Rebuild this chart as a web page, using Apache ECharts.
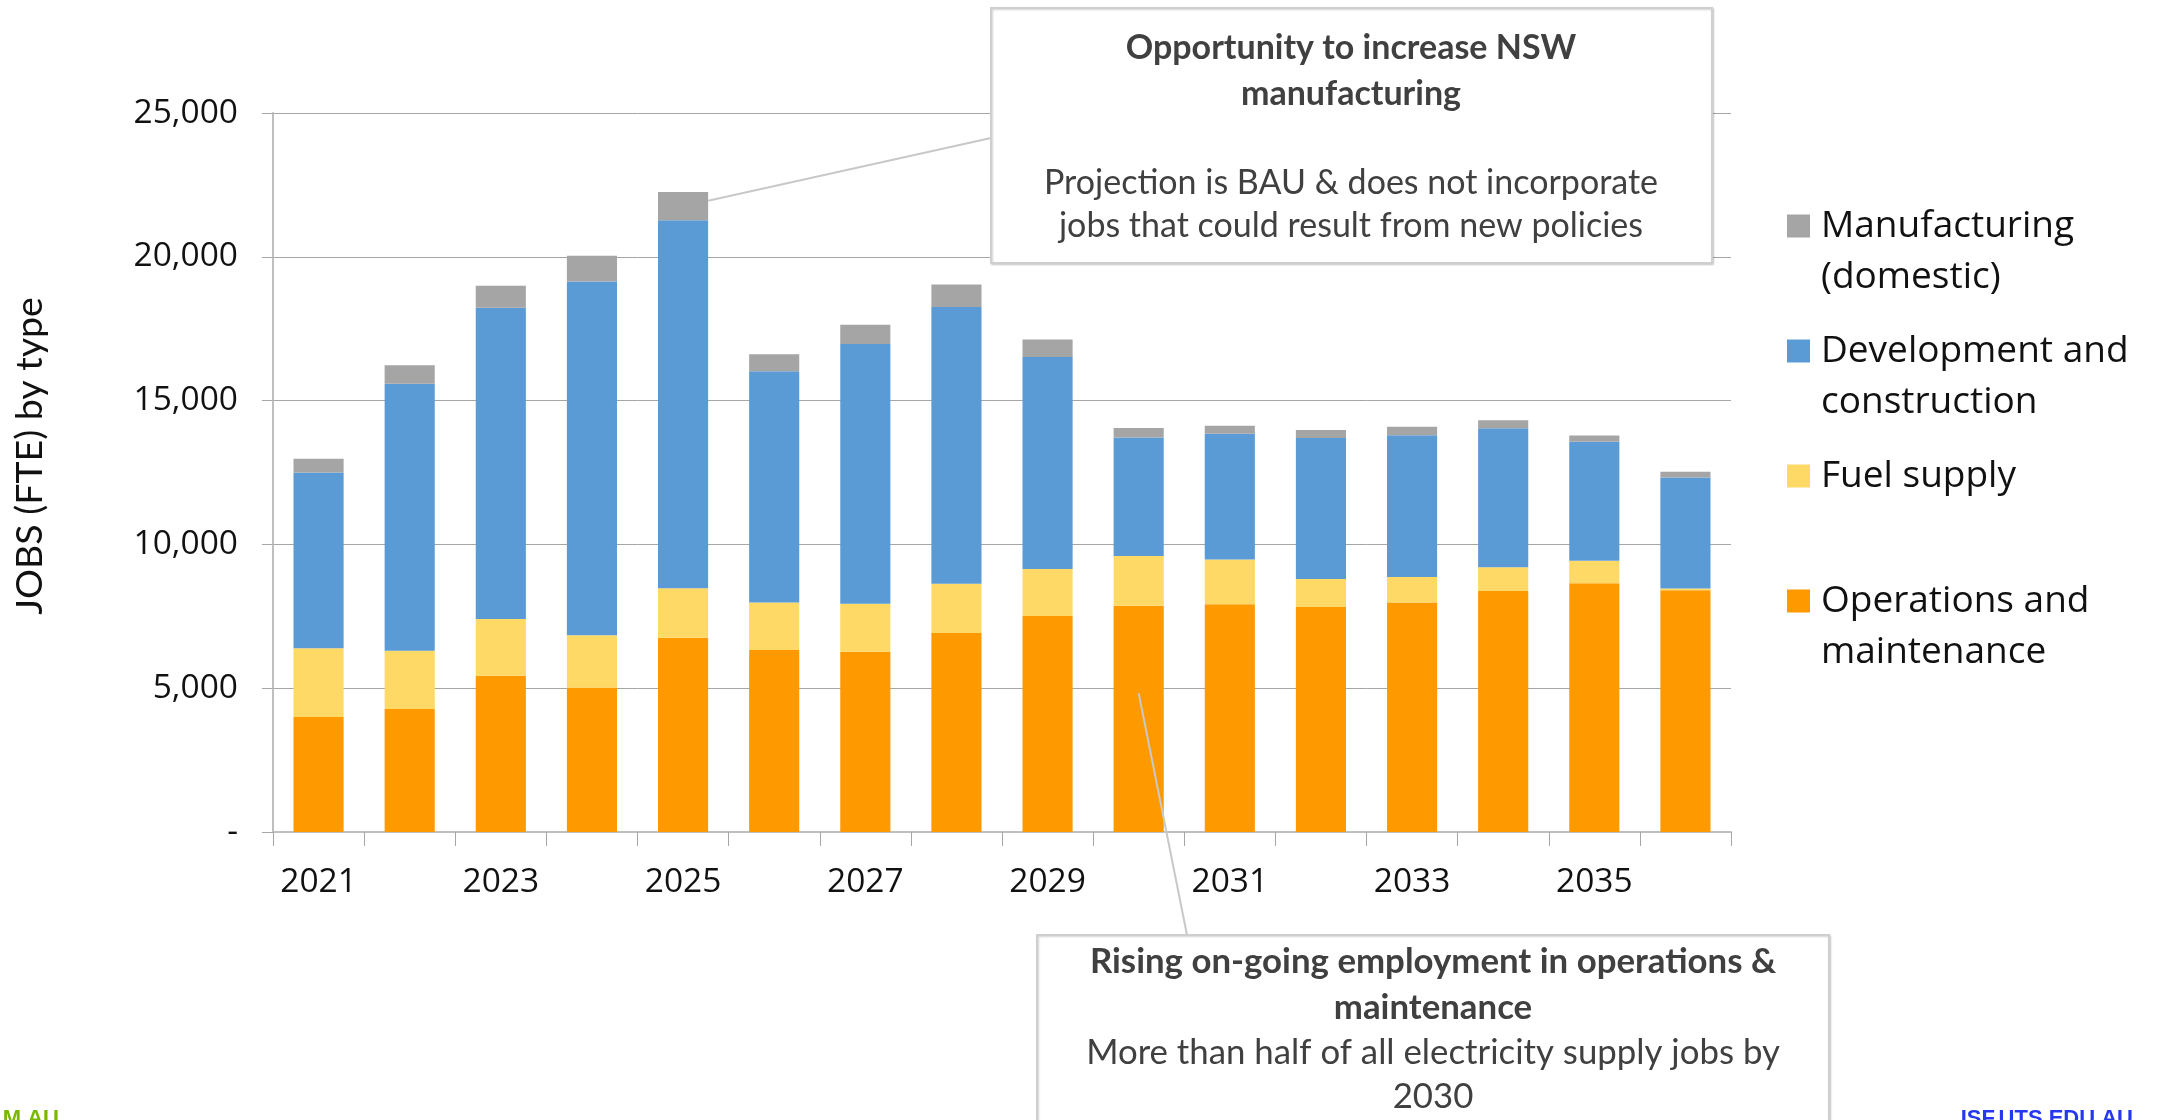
<!DOCTYPE html>
<html><head><meta charset="utf-8">
<script src="https://cdn.jsdelivr.net/npm/echarts@6/dist/echarts.min.js"></script>
<style>html,body{margin:0;padding:0;background:#fff}#c{width:2159px;height:1120px}</style>
</head><body><div id="c"></div>
<script>
// ---- data ----
const years = ['2021','2022','2023','2024','2025','2026','2027','2028','2029','2030','2031','2032','2033','2034','2035','2036'];
const operations    = [4000, 4280, 5430, 5020, 6750, 6330, 6270, 6920, 7510, 7870, 7920, 7820, 7980, 8380, 8650, 8410];
const fuelSupply    = [2390, 2020, 1975, 1820, 1725, 1650, 1665, 1710, 1635, 1725, 1555,  980,  885,  825,  780,   60];
const development   = [6110, 9285,10825,12300,12800, 8040, 9035, 9625, 7370, 4120, 4370, 4900, 4930, 4835, 4135, 3860];
const manufacturing = [ 480,  640,  760,  900,  980,  590,  670,  780,  610,  330,  280,  280,  295,  280,  220,  200];
const yTicks = [0, 5000, 10000, 15000, 20000, 25000];
const seriesNames = ['Operations and maintenance', 'Fuel supply', 'Development and construction', 'Manufacturing (domestic)'];
const legendOrder = ['Manufacturing (domestic)', 'Development and construction', 'Fuel supply', 'Operations and maintenance'];
const legendText = {
  'Manufacturing (domestic)': '\nManufacturing\n(domestic)',
  'Development and construction': '\nDevelopment and\nconstruction',
  'Fuel supply': '\nFuel supply\n ',
  'Operations and maintenance': '\nOperations and\nmaintenance'
};
const colors = ['#FF9900', '#FFD966', '#5B9BD5', '#A5A5A5'];
const yTitle = 'JOBS (FTE) by type';
const note1 = ['Opportunity to increase NSW', 'manufacturing', 'Projection is BAU & does not incorporate', 'jobs that could result from new policies'];
const note2 = ['Rising on-going employment in operations &', 'maintenance', 'More than half of all electricity supply jobs by', '2030'];
const note1Anchor = ['2025', 21950];
const note2Anchor = ['2030', 4830];

const chart = echarts.init(document.getElementById('c'), null, {renderer: 'canvas'});
const GRID = {left: 273, right: 428, top: 113, bottom: 288};
const dataSets = [operations, fuelSupply, development, manufacturing];

const series = seriesNames.map((n, i) => ({
  name: n, type: 'bar', stack: 'jobs', data: dataSets[i],
  barWidth: '55%',
  itemStyle: {color: colors[i]},
  emphasis: {disabled: true}
}));

const annFont = 'Lato, "Open Sans", sans-serif';
function noteTexts(lines, cx, ys, prefix, size) {
  return lines.map((t, i) => ({
    type: 'text', id: prefix + i, z: 20,
    style: {text: t, x: cx, y: ys[i], align: 'center', verticalAlign: 'middle',
      font: (i < 2 ? 'bold ' : '') + size + 'px ' + annFont, fill: '#404040'}
  }));
}

chart.setOption({
  animation: false,
  backgroundColor: '#fff',
  grid: GRID,
  legend: {
    data: legendOrder, orient: 'vertical', left: 1787, top: 149.5, padding: 0,
    itemGap: -28, itemWidth: 23, itemHeight: 23, icon: 'rect',
    formatter: n => legendText[n],
    textStyle: {fontFamily: '"Open Sans", sans-serif', fontSize: 37, lineHeight: 51, color: '#111',
      padding: [0, 0, 0, 6], backgroundColor: 'transparent'},
    selectedMode: false
  },
  xAxis: {
    type: 'category', data: years, boundaryGap: true,
    axisLine: {lineStyle: {color: '#bfbfbf', width: 2}},
    axisTick: {show: true, length: 14, alignWithLabel: false, interval: 0, lineStyle: {color: '#a6a6a6', width: 1}},
    axisLabel: {interval: 1, margin: 33, fontFamily: '"Open Sans", sans-serif', fontSize: 33.5, color: '#111'}
  },
  yAxis: {
    type: 'value', min: yTicks[0], max: yTicks[yTicks.length - 1], interval: yTicks[1] - yTicks[0],
    axisLine: {show: true, lineStyle: {color: '#bfbfbf', width: 2}},
    axisTick: {show: true, length: 11, lineStyle: {color: '#a6a6a6', width: 1}},
    splitLine: {lineStyle: {color: '#a6a6a6', width: 1}},
    axisLabel: {margin: 35, fontFamily: '"Open Sans", sans-serif', fontSize: 33.5, color: '#111',
      formatter: v => v === 0 ? '-' : v.toLocaleString('en-US')}
  },
  series: series,
  graphic: [
    {type: 'text', id: 'ytitle', x: 30, y: 456, rotation: Math.PI / 2,
      style: {text: yTitle, align: 'center', verticalAlign: 'middle', font: '37.5px ' + annFont, fill: '#111'}},
    {type: 'rect', id: 'box1', z: 15, shape: {x: 991, y: 8, width: 721, height: 255},
      style: {fill: '#fff', stroke: '#cfcfcf', lineWidth: 2, shadowBlur: 2, shadowOffsetX: 1, shadowOffsetY: 1, shadowColor: 'rgba(0,0,0,0.18)'}},
    {type: 'rect', id: 'box2', z: 15, shape: {x: 1037, y: 935, width: 792, height: 200},
      style: {fill: '#fff', stroke: '#cfcfcf', lineWidth: 2, shadowBlur: 2, shadowOffsetX: 1, shadowOffsetY: 1, shadowColor: 'rgba(0,0,0,0.18)'}},
    ...noteTexts(note1, 1351, [48, 94, 183, 226], 'n1_', 34),
    ...noteTexts(note2, 1433, [962, 1008, 1053, 1097], 'n2_', 34.8),
    {type: 'text', id: 'footL', x: 59, y: 1108,
      style: {text: 'M.AU', align: 'right', verticalAlign: 'top', font: 'bold 22px "Liberation Sans", Arial, sans-serif', fill: '#7AB800'}},
    {type: 'text', id: 'footR', x: 2133, y: 1108,
      style: {text: 'ISF.UTS.EDU.AU', align: 'right', verticalAlign: 'top', font: 'bold 22px "Liberation Sans", Arial, sans-serif', fill: '#2538F0'}}
  ]
});

// connectors anchored in data space
const catW = (2159 - GRID.left - GRID.right) / years.length;
const halfBar = catW * 0.55 / 2;
const a1 = chart.convertToPixel({xAxisIndex: 0, yAxisIndex: 0}, note1Anchor);
const a2 = chart.convertToPixel({xAxisIndex: 0, yAxisIndex: 0}, note2Anchor);
chart.setOption({graphic: [
  {type: 'line', id: 'lead1', z: 14, shape: {x1: a1[0] + halfBar, y1: a1[1], x2: 991, y2: 138},
    style: {stroke: '#c8c8c8', lineWidth: 2}},
  {type: 'line', id: 'lead2', z: 14, shape: {x1: a2[0], y1: a2[1], x2: 1187, y2: 935},
    style: {stroke: '#c8c8c8', lineWidth: 2}}
]});
</script>
</body></html>
